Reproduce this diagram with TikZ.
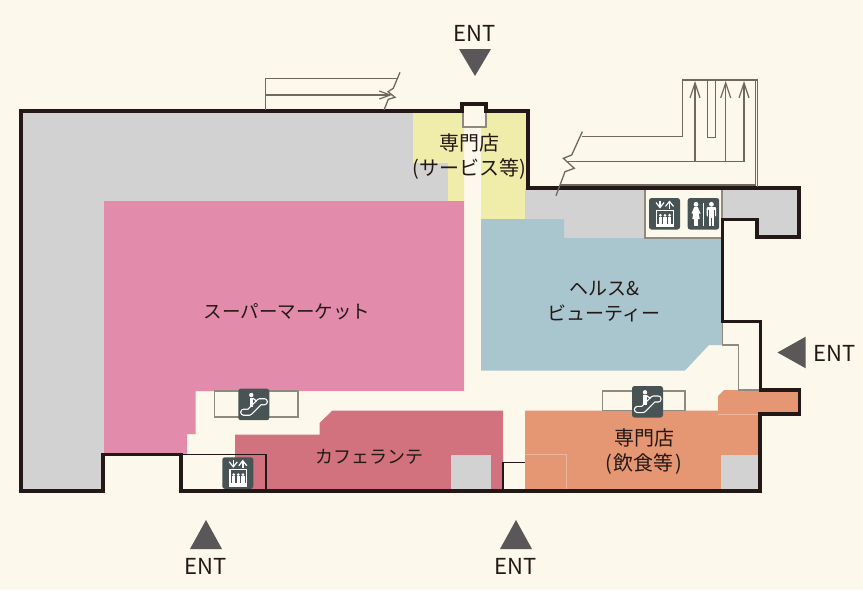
\documentclass[tikz,border=0pt]{standalone}
\usepackage{fontspec}
\setmainfont{Noto Sans CJK JP}
\usetikzlibrary{arrows.meta}
\definecolor{bgc}{HTML}{FDF8EC}
\definecolor{grayz}{HTML}{D2D2D2}
\definecolor{pinkz}{HTML}{E28BAB}
\definecolor{yelz}{HTML}{F0ECA9}
\definecolor{bluez}{HTML}{A9C5CE}
\definecolor{rosez}{HTML}{D1727E}
\definecolor{orz}{HTML}{E59673}
\definecolor{wallc}{HTML}{231815}
\definecolor{thinc}{HTML}{8F8A7F}
\definecolor{iconc}{HTML}{485354}
\definecolor{tric}{HTML}{595757}
\definecolor{stairc}{HTML}{6E685E}
\tikzset{
  wall/.style={draw=wallc,line width=3.1pt,line join=miter},
  thinwall/.style={draw=wallc,line width=1.4pt},
  partition/.style={draw=thinc,line width=1.6pt},
  stair/.style={draw=stairc,line width=1.3pt},
  lightline/.style={draw=orz!70!white,line width=.8pt},
  tri/.style={fill=tric},
  lbl/.style={text=wallc,font=\fontsize{18.5pt}{25pt}\selectfont,align=center,inner sep=0pt},
  lblb/.style={text=wallc,font=\fontsize{20pt}{25pt}\selectfont,align=center,inner sep=0pt},
  entl/.style={text=wallc,font=\fontsize{22pt}{25pt}\selectfont,inner sep=0pt},
  iconbg/.style={fill=iconc,rounded corners=2.5pt},
  openhead/.style={-{Straight Barb[length=15pt,width=10pt,line width=1.2pt]}},
  openheadb/.style={-{Straight Barb[length=11pt,width=8pt,line width=1.2pt]}},
  elarrow/.style={white,line width=1.4pt,-{Straight Barb[length=5pt,width=8pt,line width=1.2pt]}},
  pics/escicon/.style={code={
    \fill[iconbg] (0,0) rectangle (31,31.5);
    \draw[white,line width=7.4pt,line cap=round,line join=round] (5.5,23.5) -- (11,23.5) -- (21.5,13) -- (26,13);
    \draw[iconc,line width=4.8pt,line cap=round,line join=round] (5.5,23.5) -- (11,23.5) -- (21.5,13) -- (26,13);
    \fill[white] (13,6.3) circle (2.2pt);
    \fill[white] (11.3,9) rectangle (14.8,18.5);
    \draw[white,line width=1.2pt] (14.5,9.5) -- (18.5,12.5);
  }},
  pics/elevicon/.style={code={
    \fill[iconbg] (0,0) rectangle (31,31.5);
    \draw[elarrow] (11,2.5) -- (11,10.5);
    \draw[elarrow] (20.5,10.5) -- (20.5,2.5);
    \draw[white,line width=1.2pt] (7.7,12.5) rectangle (24.3,28.7);
    \fill[white] (7.7,25.5) rectangle (24.3,28.7);
    \foreach \px in {11.4,16,20.6}{
      \fill[white] (\px,17.3) circle (1.5pt);
      \fill[white] (\px-1.6,19) rectangle (\px+1.6,26);
    }
  }},
  pics/wcicon/.style={code={
    \fill[iconbg] (0,0) rectangle (31.5,31.5);
    \fill[white] (8.3,6.3) circle (2.4pt);
    \fill[white] (6.5,9) -- (10.1,9) -- (12.8,15.5) -- (11,15.5) -- (12,21) -- (4.6,21) -- (5.6,15.5) -- (3.8,15.5) -- cycle;
    \fill[white] (6.2,21) rectangle (7.9,27.5);
    \fill[white] (8.7,21) rectangle (10.4,27.5);
    \draw[white,line width=1.4pt] (16,4.5) -- (16,27.5);
    \fill[white] (23.7,6.3) circle (2.4pt);
    \fill[white,rounded corners=1pt] (19,9) rectangle (28.4,18.5);
    \fill[white] (21,14) rectangle (26.4,27.5);
    \draw[iconc,line width=.5pt] (23.7,20) -- (23.7,27.5);
    \draw[iconc,line width=.5pt] (20.9,12) -- (20.9,18.5) (26.5,12) -- (26.5,18.5);
  }}
}
\begin{document}
\begin{tikzpicture}[x=1pt,y=-1pt]
\useasboundingbox (0,0) rectangle (863,590);
\fill[bgc] (0,0) rectangle (863,590);
% floor areas
\fill[grayz] (21,111) -- (413,111) -- (413,162.7) -- (448,162.7) -- (448,201) -- (104,201) -- (104,454) -- (103,454) -- (103,491) -- (21,491) -- cycle;
\fill[yelz] (413,111) -- (463,111) -- (463,127) -- (486,127) -- (486,111) -- (528,111) -- (528,188) -- (525,188) -- (525,219) -- (481,219) -- (481,127) -- (464,127) -- (464,201) -- (448,201) -- (448,162.7) -- (413,162.7) -- cycle;
\fill[grayz] (525,188) -- (799,188) -- (799,237) -- (757,237) -- (757,219) -- (722,219) -- (722,238) -- (564,238) -- (564,219) -- (525,219) -- cycle;
\fill[pinkz] (104,201) -- (464,201) -- (464,391) -- (195.5,391) -- (195.5,434) -- (187,434) -- (187,454) -- (104,454) -- cycle;
\fill[bluez] (481,219) -- (564,219) -- (564,238) -- (722,238) -- (722,345) -- (709,345) -- (685,370.5) -- (481,370.5) -- cycle;
\fill[rosez] (235,491) -- (235,434.5) -- (319.5,434.5) -- (319.5,423) -- (332.5,410.5) -- (503,410.5) -- (503,491) -- cycle;
\fill[grayz] (451,455) rectangle (491,491);
\fill[orz] (525,410.7) -- (718,410.7) -- (718,396) -- (724,390) -- (799,390) -- (799,413.5) -- (760,413.5) -- (760,491) -- (525,491) -- cycle;
\fill[grayz] (720.7,454.5) rectangle (760,491);
\draw[lightline] (718,414.5) -- (760,414.5);
\draw[lightline] (525,454.5) -- (566.7,454.5) -- (566.7,491);
% elevator / WC room
\draw[partition,fill=bgc] (645,189) rectangle (722,238);
% partitions
\draw[partition] (722.5,321) -- (722.5,345) -- (738.5,345) -- (738.5,390) -- (761,390);
\draw[partition] (214.5,391) rectangle (297.7,416.7);
\draw[partition] (602.3,391) rectangle (685,410.5);
\draw[partition] (463,111) -- (463,127) -- (486,127) -- (486,111);
\draw[thinwall] (181,454.7) -- (266,454.7) -- (266,491);
\draw[thinwall] (503,491) -- (503,462.7) -- (525,462.7);
% walls
\draw[wall] (21,111) -- (462,111) -- (462,104) -- (486,104) -- (486,111) -- (528,111) -- (528,188) -- (799,188) -- (799,237) -- (757,237) -- (757,219.3) -- (722.7,219.3) -- (722.7,321.5) -- (760.7,321.5) -- (760.7,390) -- (799.3,390) -- (799.3,414) -- (760,414) -- (760,491) -- (181,491) -- (181,454.5) -- (103,454.5) -- (103,491) -- (21,491) -- cycle;
% stairs left
\draw[stair] (265.3,110) -- (265.3,78.3) -- (396.7,78.3);
\draw[stair,openheadb] (265.3,95) -- (392,95);
\draw[stair] (400,72.3) -- (393.3,88.3) -- (388,91.7) -- (395,97.3) -- (388.3,99.3) -- (384,110);
% stairs right
\draw[stair] (581.7,136.7) -- (682.7,136.7) -- (682.7,80) -- (757.3,80) -- (757.3,187);
\draw[stair] (755.5,80) -- (755.5,185) -- (560,185);
\draw[stair] (568.3,161.7) -- (744,161.7);
\draw[stair,openhead] (695,161.7) -- (695,81);
\draw[stair,openhead] (725.7,161.7) -- (725.7,81);
\draw[stair,openhead] (744,161.7) -- (744,81);
\draw[stair] (707.3,80) rectangle (715.7,137.3);
\draw[stair] (582.3,131.7) -- (571.7,155) -- (563.3,158.3) -- (574.3,168.3) -- (565,171.7) -- (556,195.7);
% icons
\pic at (238.3,388.7) {escicon};
\pic at (632,386) {escicon};
\pic at (222.3,457.3) {elevicon};
\pic at (649,198) {elevicon};
\pic at (687.7,198) {wcicon};
% entrance triangles
\fill[tri] (475,76) -- (459,49) -- (491,49) -- cycle;
\fill[tri] (777.5,352.5) -- (805.7,336.7) -- (805.7,368.3) -- cycle;
\fill[tri] (206,520) -- (190,549) -- (222,549) -- cycle;
\fill[tri] (516,520) -- (500,549) -- (532,549) -- cycle;
\node[entl] (enttop) at (475,33) {ENT};
\node[entl] (entright) at (834.5,353) {ENT};
\node[entl] (entbl) at (206,566) {ENT};
\node[entl] (entbm) at (516,566) {ENT};
% labels
\node[lbl] (super) at (287,312) {スーパーマーケット};
\node[lbl,font=\fontsize{19pt}{25pt}\selectfont] (health) at (604,301.5) {ヘルス\&\\ビューティー};
\node[lblb] (service) at (469,157) {専門店\\(サービス等)};
\node[lbl,font=\fontsize{18pt}{25pt}\selectfont] (cafe) at (369,457) {カフェランテ};
\node[lblb] (food) at (644,452) {専門店\\(\hspace{2pt}飲食等\hspace{2pt})};
\end{tikzpicture}
\end{document}
